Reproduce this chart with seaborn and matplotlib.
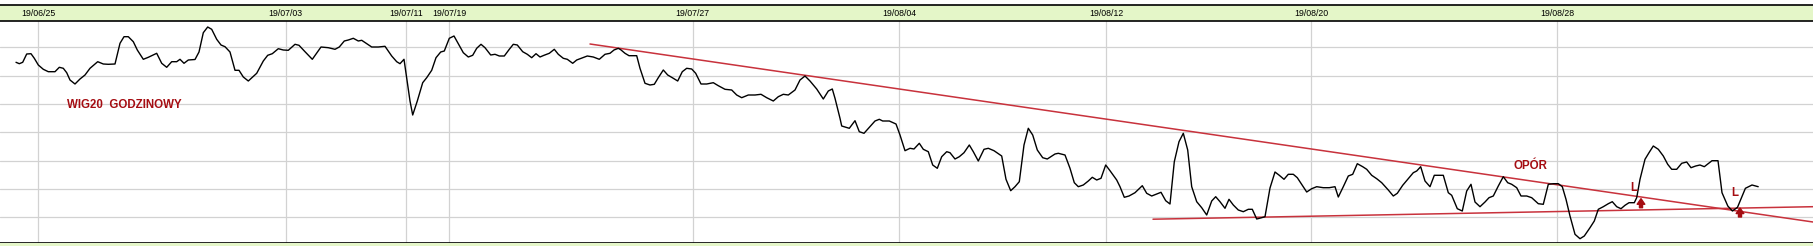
import numpy as np
import pandas as pd
import matplotlib
matplotlib.use("Agg")
import matplotlib.pyplot as plt
import seaborn as sns

# ---- data (time position in chart units, WIG20 hourly level) ----
t = [1.6, 1.93, 2.27, 2.67, 3.1, 3.43, 3.83, 4.33, 4.83, 5.5, 5.93, 6.33, 6.67, 7.0, 7.5, 8.0, 8.5, 9.0,
     9.77, 10.33, 10.83, 11.5, 12.0, 12.4, 12.83, 13.33, 13.73, 14.33, 14.83, 15.67, 16.17, 16.67, 17.17,
     17.67, 18.0, 18.4, 18.83, 19.5, 19.9, 20.33, 20.77, 21.17, 21.67, 22.1, 22.5, 23.0, 23.5, 23.9, 24.33,
     24.83, 25.67, 26.33, 26.77, 27.23, 27.83, 28.33, 28.83, 29.5, 29.9, 30.5, 31.23, 32.1, 32.83, 33.5,
     33.93, 34.43, 34.83, 35.33, 35.83, 36.17, 37.17, 37.83, 38.5, 39.17, 39.67, 40.0, 40.4, 41.0, 41.27,
     41.73, 42.27, 42.67, 43.17, 43.6, 44.07, 44.43, 44.93, 45.4, 45.83, 46.33, 46.83, 47.27, 47.67, 48.1,
     48.5, 49.07, 49.5, 49.93, 50.43, 50.93, 51.33, 51.73, 52.27, 52.73, 53.17, 53.6, 54.0, 54.4, 54.93,
     55.43, 55.83, 56.33, 56.73, 57.27, 57.67, 58.27, 58.73, 59.33, 59.93, 60.5, 61.0, 61.4, 61.83, 62.07,
     62.5, 62.9, 63.67, 64.0, 64.5, 65.0, 65.43, 65.83, 66.33, 66.77, 67.23, 67.77, 68.23, 68.67, 69.17,
     69.57, 70.1, 70.67, 71.33, 71.83, 72.5, 73.17, 73.67, 74.17, 74.83, 75.5, 76.1, 76.67, 77.33, 77.83,
     78.33, 78.83, 79.5, 80.0, 80.5, 81.0, 81.67, 82.33, 82.83, 83.23, 83.5, 84.0, 84.17, 84.93, 85.5,
     85.93, 86.4, 86.93, 87.5, 87.93, 88.27, 88.93, 89.6, 90.0, 90.5, 91.0, 91.4, 91.93, 92.33, 92.83,
     93.27, 93.73, 94.17, 94.67, 95.0, 95.5, 95.93, 96.4, 96.93, 97.33, 97.83, 98.4, 98.83, 99.4, 100.17,
     100.6, 101.07, 101.5, 101.93, 102.4, 102.83, 103.27, 103.73, 104.27, 104.73, 105.5, 105.83, 106.5,
     107.0, 107.43, 107.83, 108.33, 108.83, 109.23, 109.67, 110.1, 110.57, 111.0, 111.67, 112.0, 112.43,
     112.9, 113.5, 114.23, 114.67, 115.17, 115.67, 116.1, 116.57, 117.0, 117.43, 117.9, 118.33, 118.77,
     119.17, 119.67, 120.17, 120.67, 121.17, 121.57, 122.0, 122.5, 122.9, 123.33, 123.83, 124.33, 124.83,
     125.23, 125.67, 126.17, 126.5, 127.0, 127.5, 127.93, 128.4, 128.83, 129.33, 129.73, 130.17, 130.67,
     131.17, 131.67, 132.33, 132.93, 133.5, 133.83, 134.33, 134.83, 135.27, 135.73, 136.27, 136.67,
     137.17, 137.67, 138.17, 138.83, 139.33, 139.73, 140.27, 140.83, 141.33, 141.67, 142.07, 142.5,
     143.0, 143.43, 143.83, 144.33, 144.83, 145.17, 145.73, 146.23, 146.67, 147.1, 147.5, 148.0, 148.5,
     148.9, 149.33, 149.83, 150.33, 150.77, 151.17, 151.67, 152.1, 152.67, 153.17, 153.83, 154.33,
     154.83, 155.33, 155.83, 156.23, 156.6, 157.0, 157.5, 158.0, 158.43, 159.0, 159.43, 159.83, 160.33,
     160.83, 161.23, 161.67, 162.1, 162.5, 162.9, 163.43, 163.67, 164.0, 164.5, 164.9, 165.33, 165.83,
     166.33, 166.77, 167.17, 167.67, 168.17, 168.67, 169.1, 169.57, 170.0, 170.43, 171.2, 171.8, 172.2,
     172.78, 173.24, 173.75, 174.54, 175.2, 175.82]

wig20 = [2297.7, 2296.3, 2297.7, 2306, 2306.3, 2301.7, 2295, 2290.7, 2288.3, 2288.3, 2292.7, 2291.7, 2287.3,
         2280, 2276, 2281, 2285, 2291.7, 2298.3, 2296, 2295.7, 2296, 2316.7, 2323.3, 2323.3, 2318.3, 2310,
         2300.7, 2302.7, 2306.7, 2296.7, 2292.7, 2298.3, 2298.3, 2300.7, 2296.7, 2300, 2300.5, 2308, 2327.3,
         2333, 2330.7, 2320.7, 2315, 2313.3, 2308, 2289.7, 2289.7, 2283, 2279, 2286.7, 2299, 2304.7, 2306.3,
         2311.3, 2310, 2309.7, 2315.7, 2314.7, 2308.3, 2300.7, 2313, 2312.3, 2310.7, 2313, 2319, 2320,
         2321.7, 2319, 2319.7, 2313, 2313, 2313.7, 2304, 2298.3, 2296.3, 2300.7, 2259, 2245, 2259, 2277.3,
         2282.3, 2289.7, 2302.3, 2308, 2309, 2321.7, 2324, 2316.3, 2307.3, 2303, 2304.7, 2311.7, 2315.7,
         2312.3, 2305, 2305.7, 2304, 2304, 2310.7, 2315.7, 2315, 2308.3, 2305.7, 2302.3, 2306.3, 2303,
         2304.7, 2306.7, 2310.7, 2305.7, 2301.7, 2300.7, 2296.7, 2300, 2302.3, 2304, 2303, 2300.7, 2305.7,
         2306.7, 2310, 2311.7, 2310.3, 2306.7, 2304.3, 2304.3, 2291.7, 2276.7, 2275, 2275.7, 2282.3, 2290,
         2285, 2282.3, 2279, 2288.3, 2291.7, 2291, 2286.7, 2276, 2276, 2277.3, 2274.3, 2270.7, 2270, 2265,
         2262.3, 2265, 2265, 2265.7, 2262.3, 2259, 2263.3, 2265.7, 2265, 2270, 2280, 2284, 2279, 2271, 2261,
         2269, 2271, 2261.7, 2241.7, 2234, 2231.7, 2239.3, 2228.3, 2226.7, 2232.7, 2239, 2240.7, 2239,
         2239, 2236, 2225, 2209.3, 2211.7, 2211, 2216.7, 2210.7, 2208.3, 2195, 2191.7, 2203.3, 2208.3,
         2207.3, 2201, 2203.3, 2207.3, 2215, 2208.3, 2199, 2210.7, 2211.7, 2209.3, 2204, 2180.7, 2169.3,
         2173.3, 2178.3, 2215, 2231.7, 2225, 2210, 2202.3, 2201, 2206, 2206.7, 2205, 2191.7, 2177.3, 2173.3,
         2175, 2179, 2182.7, 2180, 2181.7, 2195, 2189.3, 2180, 2173.3, 2162.7, 2164, 2167.3, 2174.3, 2166.7,
         2164, 2166, 2167.7, 2159.3, 2156, 2198.3, 2218.3, 2226.7, 2210, 2173.3, 2158.3, 2152.3, 2145, 2159,
         2163.3, 2158.3, 2151.7, 2160.7, 2155, 2150, 2148.3, 2150.7, 2150.7, 2141, 2142.3, 2143.3, 2172,
         2188, 2184.7, 2180.7, 2185.7, 2185.7, 2182.3, 2175.7, 2168, 2171.3, 2173.3, 2172.3, 2172.3, 2173.3,
         2163, 2173.3, 2184, 2185.7, 2196.3, 2193.3, 2190.7, 2184.7, 2181.3, 2177.3, 2170, 2164, 2166.7,
         2174.7, 2181.3, 2187.3, 2189, 2193.3, 2179, 2173.3, 2184.7, 2184.7, 2184.7, 2167.3, 2164.7, 2151.3,
         2149, 2169, 2175.7, 2158, 2153.3, 2158, 2162.3, 2164, 2174, 2183.3, 2177.3, 2175.7, 2172.3, 2164,
         2164, 2162.3, 2156.3, 2155.7, 2175.7, 2176.3, 2176.3, 2173.3, 2160.7, 2144, 2125.7, 2121.3, 2124,
         2132.3, 2139, 2150.7, 2153.3, 2156.3, 2158.3, 2153.3, 2151.3, 2154.7, 2157.3, 2157.3, 2162.3,
         2180.7, 2200.7, 2207.3, 2214, 2210.7, 2204, 2195.7, 2190.7, 2190.7, 2196.7, 2198, 2192.3, 2194,
         2195, 2193.3, 2199.3, 2199.3, 2167.3, 2154, 2149, 2152.7, 2171.7, 2175, 2173.3]

tick_pos = [3.83, 28.55, 40.57, 44.93, 69.26, 89.93, 110.63, 131.14, 155.73]
tick_labels = ["19/06/25", "19/07/03", "19/07/11", "19/07/19", "19/07/27",
               "19/08/04", "19/08/12", "19/08/20", "19/08/28"]

# trend lines (resistance falling, support rising)
resist_t = [59.0, 181.3]
resist_v = [2316.0, 2138.0]
support_t = [115.3, 181.3]
support_v = [2140.8, 2153.3]

# ---- style ----
sns.set_theme(style="white")
plt.rcParams["font.family"] = ["Liberation Sans", "DejaVu Sans"]

RED_LINE = "#c8323c"
RED_TXT = "#a50d12"
GREEN = "#e4f6c8"
GRID = "#d2d2d2"

fig = plt.figure(figsize=(18.13, 2.46), dpi=100)
fig.patch.set_facecolor("white")

H = 246.0
ax = fig.add_axes([0, 3 / H, 1, 222 / H])
band = fig.add_axes([0, 225 / H, 1, 16 / H])
strip = fig.add_axes([0, 0, 1, 3 / H])

xlim = (0, 181.3)
ylim = (2117, 2339)

# main chart
ax.set_facecolor("white")
for v in np.linspace(2142.7, 2312.7, 7):
    ax.axhline(v, color=GRID, lw=0.9, zorder=0)
for p in tick_pos:
    ax.axvline(p, color=GRID, lw=0.9, zorder=0)

df = pd.DataFrame({"t": t, "wig20": wig20})
sns.lineplot(data=df, x="t", y="wig20", color="black", linewidth=1.0,
             estimator=None, sort=False, ax=ax, zorder=3)
sns.lineplot(x=resist_t, y=resist_v, color=RED_LINE, linewidth=1.1, ax=ax, zorder=2)
sns.lineplot(x=support_t, y=support_v, color=RED_LINE, linewidth=1.1, ax=ax, zorder=2)

ax.set_xlim(*xlim)
ax.set_ylim(*ylim)
ax.set_xticks([])
ax.set_yticks([])
ax.set_xlabel("")
ax.set_ylabel("")
for s in ["top", "left", "right"]:
    ax.spines[s].set_visible(False)
ax.spines["bottom"].set_color("black")
ax.spines["bottom"].set_linewidth(1.2)

# annotations
ax.text(6.7, 2251.7, "WIG20  GODZINOWY", color=RED_TXT, fontsize=8.3,
        fontweight="bold", ha="left", va="baseline")
ax.text(151.3, 2190.7, "OPÓR", color=RED_TXT, fontsize=8.3,
        fontweight="bold", ha="left", va="baseline")
ax.text(163.07, 2169.0, "L", color=RED_TXT, fontsize=8.3,
        fontweight="bold", ha="left", va="baseline")
ax.text(173.09, 2164.0, "L", color=RED_TXT, fontsize=8.3,
        fontweight="bold", ha="left", va="baseline")
arrow_kw = dict(arrowstyle="simple,head_width=0.55,head_length=0.4,tail_width=0.22",
                color=RED_TXT, shrinkA=0, shrinkB=0, mutation_scale=10)
ax.annotate("", xy=(164.1, 2360 - 198.7), xytext=(164.1, 2360 - 207.7), arrowprops=arrow_kw)
ax.annotate("", xy=(174.0, 2360 - 208.0), xytext=(174.0, 2360 - 217.0), arrowprops=arrow_kw)

# date band on top
band.set_facecolor(GREEN)
band.set_xlim(*xlim)
band.set_ylim(0, 1)
band.set_xticks([])
band.set_yticks([])
for s in ["left", "right"]:
    band.spines[s].set_visible(False)
for s in ["top", "bottom"]:
    band.spines[s].set_color("black")
    band.spines[s].set_linewidth(1.2)
for p, lab in zip(tick_pos, tick_labels):
    band.text(p, 0.5, lab, ha="center", va="center", fontsize=6.3, color="black")

# bottom strip
strip.set_facecolor(GREEN)
strip.set_xticks([])
strip.set_yticks([])
for s in strip.spines.values():
    s.set_visible(False)

fig.savefig("out.png", dpi=100)
